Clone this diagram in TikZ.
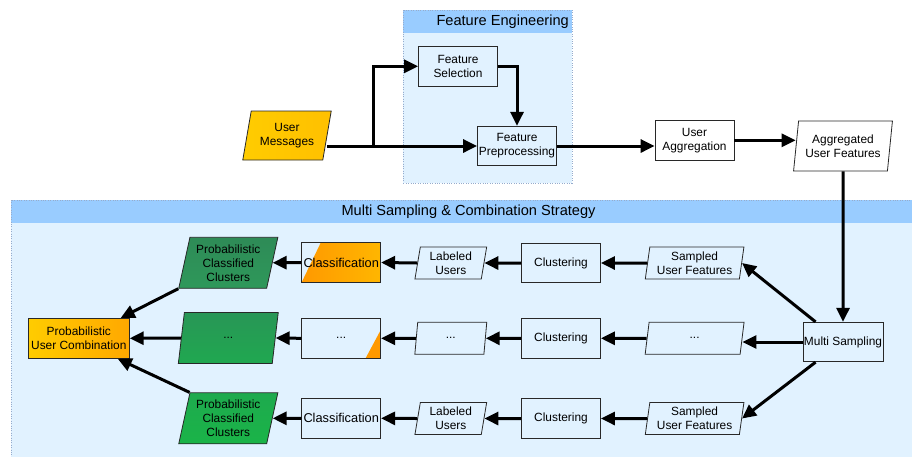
\documentclass[tikz,border=0pt]{standalone}
\usepackage{fontspec}
\setmainfont{Liberation Sans}
\usetikzlibrary{shapes.geometric,arrows.meta}

\definecolor{lanehead}{RGB}{153,204,255}
\definecolor{lanebody}{RGB}{225,242,255}
\definecolor{laneline}{RGB}{150,172,205}
\definecolor{edge}{RGB}{40,40,40}
\definecolor{gold}{RGB}{255,204,0}
\definecolor{amber}{RGB}{255,168,0}
\definecolor{deeporange}{RGB}{255,153,0}
\definecolor{lightorange}{RGB}{255,182,0}

\begin{document}
\begin{tikzpicture}[x=1pt, y=-1pt,
  box/.style = {draw=edge, thick, minimum width=79pt, minimum height=39.5pt, align=center,
    inner sep=1pt, font=\fontsize{11.9}{14}\selectfont},
  data/.style = {box, trapezium, trapezium stretches=true},
  flow/.style = {line width=3pt, -{Triangle[length=14pt,width=13pt]}},
  lane/.style = {fill=lanebody, draw=laneline, dotted, thin},
  lanetitle/.style = {font=\fontsize{14.6}{16}\selectfont, inner sep=0pt}]
\useasboundingbox (0,0) rectangle (912,456);

% containers
\draw[lane] (403.3,10) rectangle (571.7,182.7);
\fill[lanehead] (403.3,10) rectangle (571.7,32.7);
\draw[laneline, dotted, thin] (403.3,10) rectangle (571.7,182.7);
\node[lanetitle, anchor=east] (fetitle) at (569,21.5) {Feature Engineering};

\draw[lane] (11,200) rectangle (926,470);
\fill[lanehead] (11,200) rectangle (926,222.7);
\draw[laneline, dotted, thin] (11,200) rectangle (926,470);
\node[lanetitle] (mstitle) at (468.5,211.5) {Multi Sampling \& Combination Strategy};

% top flow
\node[data, trapezium left angle=76, trapezium right angle=104, minimum width=89pt, minimum height=49pt,
  left color=gold, right color={rgb,255:red,255;green,192;blue,0}] (um) at (287,135.5) {User\\Messages};
\node[box] (fs) at (458,66.3) {Feature\\Selection};
\node[box] (fp) at (517,146) {Feature\\Preprocessing};
\node[box, fill=white] (ua) at (694.5,140.3) {User\\Aggregation};
\node[data, fill=white, trapezium left angle=80, trapezium right angle=100, minimum width=99pt,
  minimum height=50pt] (af) at (843,146) {Aggregated\\User Features};
\node[box] (ms) at (843,342) {Multi Sampling};
\coordinate (split) at (373.3,146);

% sampling rows
\foreach \i/\y/\t/\l in {1/263/{Sampled\\User Features}/{Labeled\\Users},
                         2/338.3/{...}/{...},
                         3/418.5/{Sampled\\User Features}/{Labeled\\Users}} {
  \node[data, trapezium left angle=81, trapezium right angle=99, minimum width=99pt, minimum height=32pt]
    (su\i) at (694.6,\y) {\t};
  \node[box] (cl\i) at (561,\y) {Clustering};
  \node[data, trapezium left angle=81, trapezium right angle=99, minimum width=72pt, minimum height=32pt]
    (lu\i) at (450.8,\y) {\l};
}

\node[box, font=\fontsize{12.8}{14}\selectfont, path picture={
    \shade[left color=deeporange, right color=lightorange]
      (path picture bounding box.south west) -- ([xshift=19pt]path picture bounding box.north west)
      -- (path picture bounding box.north east) -- (path picture bounding box.south east) -- cycle;}]
  (cf1) at (341.2,262.5) {Classification};
\node[box, path picture={
    \fill[deeporange] ([xshift=-15pt]path picture bounding box.south east)
      -- (path picture bounding box.south east) -- ([yshift=28pt]path picture bounding box.south east) -- cycle;}]
  (cf2) at (341.2,338.3) {...};
\node[box, font=\fontsize{12.8}{14}\selectfont] (cf3) at (341.2,418.3) {Classification};

\node[data, trapezium left angle=76, trapezium right angle=104, minimum width=100pt, minimum height=51pt,
  top color={rgb,255:red,46;green,139;blue,87}, bottom color={rgb,255:red,46;green,152;blue,90}]
  (pc1) at (228.3,262.8) {Probabilistic\\Classified\\Clusters};
\node[data, trapezium left angle=76, trapezium right angle=104, minimum width=100pt, minimum height=51pt,
  top color={rgb,255:red,40;green,150;blue,86}, bottom color={rgb,255:red,32;green,168;blue,80}]
  (pc2) at (228.3,338) {...};
\node[data, trapezium left angle=76, trapezium right angle=104, minimum width=100pt, minimum height=51pt,
  top color={rgb,255:red,30;green,170;blue,78}, bottom color={rgb,255:red,26;green,180;blue,72}]
  (pc3) at (228.3,418.3) {Probabilistic\\Classified\\Clusters};

\node[box, minimum width=101pt, minimum height=40pt, left color=gold, right color=amber]
  (puc) at (78.8,338.3) {Probabilistic\\User Combination};

% connectors
\draw[flow] (um.east |- split) -- (fp.west);
\draw[flow] (split) |- (fs.west);
\draw[flow] (fs.east) -| (fp.north);
\draw[flow] (fp.east) -- (fp.east -| ua.west);
\draw[flow] (ua.east) -- (ua.east -| af.west);
\draw[flow] (af.south) -- (ms.north);

\draw[flow] ([xshift=13pt]ms.north west) -- (su1.east);
\draw[flow] (ms.west) -- (ms.west -| su2.east);
\draw[flow] ([xshift=13pt]ms.south west) -- (su3.east);

\foreach \i in {1,2,3} {
  \draw[flow] (su\i.west) -- (cl\i.east);
  \draw[flow] (cl\i.west) -- (lu\i.east);
  \draw[flow] (lu\i.west) -- (cf\i.east);
  \draw[flow] (cf\i.west) -- (pc\i.east);
}

\draw[flow] (pc1.bottom left corner) -- ([xshift=-9pt]puc.north east);
\draw[flow] (pc2.west) -- (puc.east);
\draw[flow] (pc3.top left corner) -- ([xshift=-12pt]puc.south east);
\end{tikzpicture}
\end{document}
